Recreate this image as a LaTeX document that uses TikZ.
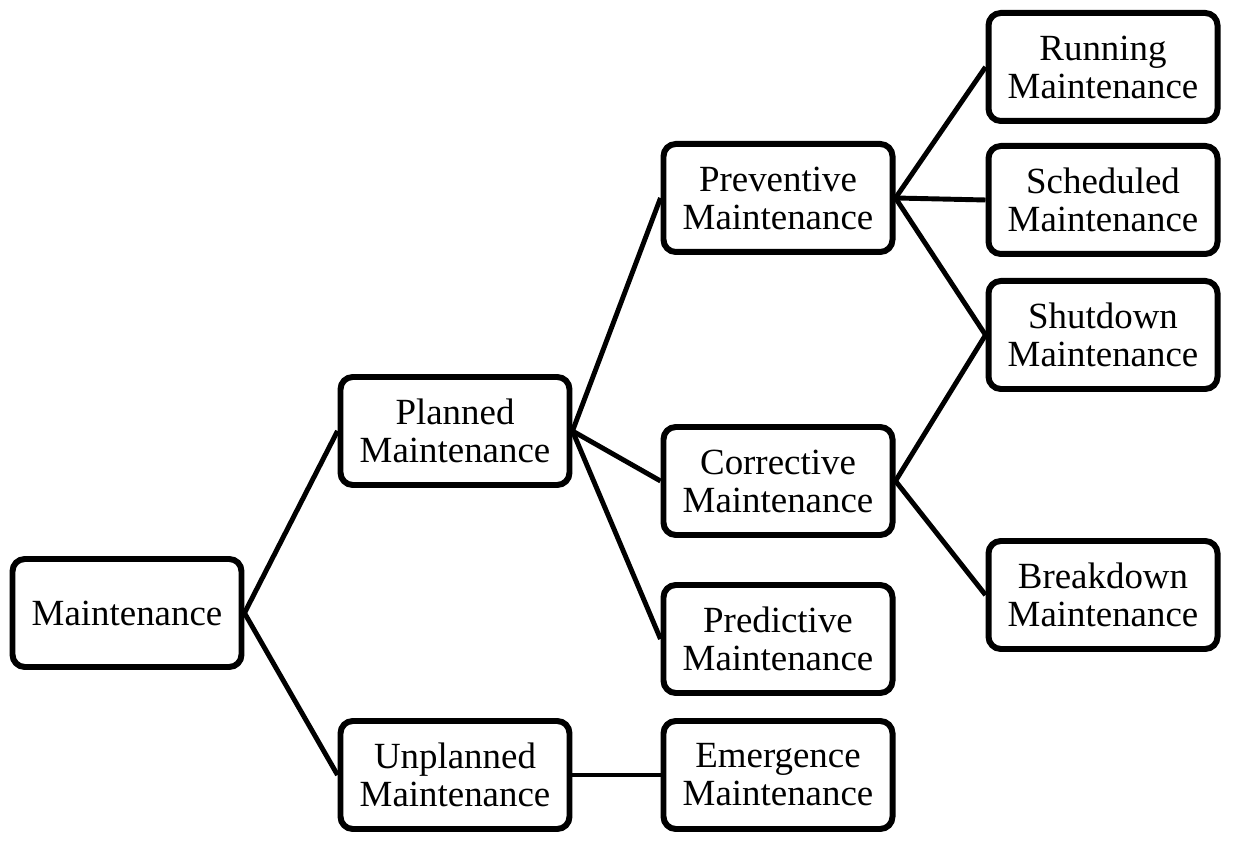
\documentclass[tikz,border=0pt]{standalone}
\usepackage{fontspec}
\setmainfont{Liberation Serif}
\begin{document}
\begin{tikzpicture}[every edge/.style = {draw, line width=2.8pt},
 mbox/.style = {rectangle, rounded corners=7pt, draw, line width=3.4pt, minimum width=4.58cm, minimum height=2.16cm, inner sep=0pt, align=center, font=\fontsize{21}{21.6}\selectfont}]
\useasboundingbox (0,0) rectangle (24.74,16.98);

\node(mnt) [mbox] at (2.54,4.72) {Maintenance};

\node(pln) [mbox] at (9.10,8.36) {Planned\\Maintenance};
\node(unp) [mbox] at (9.10,1.48) {Unplanned\\Maintenance};

\node(prv) [mbox] at (15.56,13.02) {Preventive\\Maintenance};
\node(cor) [mbox] at (15.56,7.36) {Corrective\\Maintenance};
\node(prd) [mbox] at (15.56,4.20) {Predictive\\Maintenance};
\node(emg) [mbox] at (15.56,1.48) {Emergence\\Maintenance};

\node(run) [mbox] at (22.06,15.64) {Running\\Maintenance};
\node(sch) [mbox] at (22.06,12.98) {Scheduled\\Maintenance};
\node(shd) [mbox] at (22.06,10.28) {Shutdown\\Maintenance};
\node(brk) [mbox] at (22.06,5.08) {Breakdown\\Maintenance};
%
\path   (mnt.east) edge (pln.west)
        (mnt.east) edge (unp.west)
        (pln.east) edge (prv.west)
        (pln.east) edge (cor.west)
        (pln.east) edge (prd.west)
        (unp.east) edge (emg.west)
        (prv.east) edge (run.west)
        (prv.east) edge (sch.west)
        (prv.east) edge (shd.west)
        (cor.east) edge (shd.west)
        (cor.east) edge (brk.west);

\end{tikzpicture}
\end{document}
